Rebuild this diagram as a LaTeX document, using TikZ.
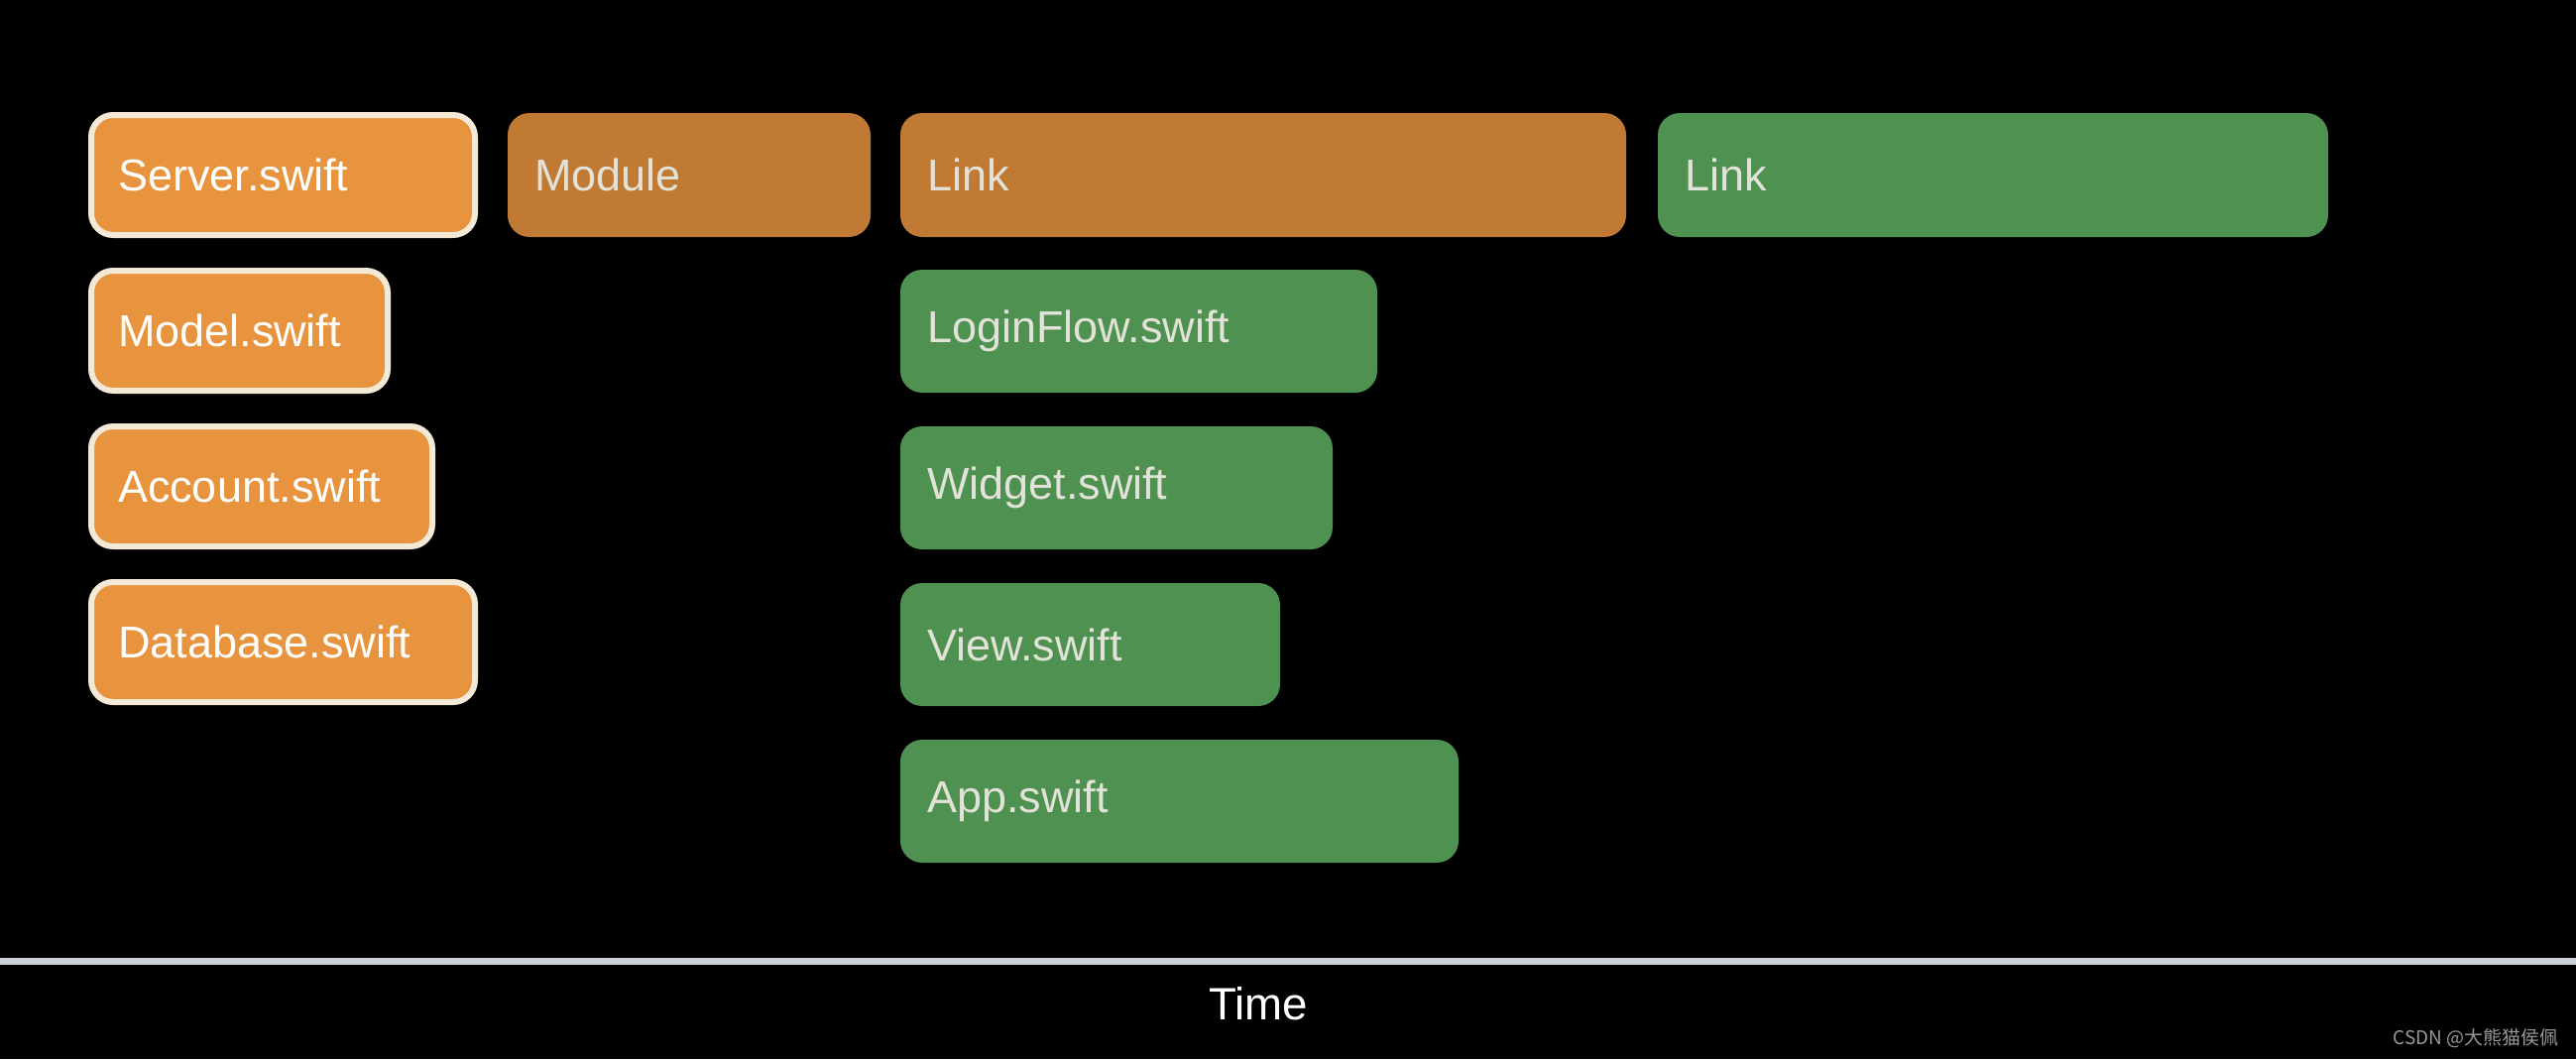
\documentclass[tikz,border=0pt]{standalone}
\usepackage{fontspec}
\setsansfont{Liberation Sans}
\newfontfamily\cjkfont{Noto Sans CJK SC}
\usepackage{xcolor}
\usepackage{tikz}
\usetikzlibrary{positioning}
\definecolor{buildOrange}{HTML}{E8943E}
\definecolor{buildOrangeDark}{HTML}{C07A33}
\definecolor{buildGreen}{HTML}{4E9150}
\definecolor{buildRim}{HTML}{F3E9D6}
\definecolor{buildText}{HTML}{E2E2D8}
\definecolor{buildAxis}{HTML}{CDD1D8}
\tikzset{
  task/.style={rounded corners=0.22cm, align=left, inner xsep=0.27cm,
    inner ysep=0pt, minimum height=1.25cm, outer sep=0pt,
    font=\sffamily\fontsize{12.8}{15}\selectfont},
  file box/.style={task, draw=buildRim, line width=0.06cm,
    fill=buildOrange, text=white, minimum height=1.21cm},
  module box/.style={task, fill=buildOrangeDark, text=buildText},
  link box/.style={task, fill=buildGreen, text=buildText,
    minimum height=1.24cm},
  time axis/.style={draw=buildAxis, line width=0.07cm},
  axis label/.style={font=\sffamily\fontsize{13}{15}\selectfont, text=white},
  credit/.style={font=\cjkfont\fontsize{5.4}{6}\selectfont, text=black!40}
}
\begin{document}
\begin{tikzpicture}[node distance=0.3cm and 0.3cm]
  \fill[black] (0,0) rectangle (25.98,-10.68);
  \useasboundingbox (0,0) rectangle (25.98,-10.68);
  % first row
  \node[file box, text width=3.33cm, anchor=north west] (server) at (0.92,-1.16) {Server.swift};
  \node[module box, text width=3.12cm, right=0.33cm of server] (module) {Module};
  \node[module box, text width=6.78cm, right=of module] (link) {Link};
  \node[link box, text width=6.22cm, minimum height=1.25cm, right=0.32cm of link] (linkg) {Link};
  % files compiled in parallel
  \node[file box, text width=2.45cm, below=0.36cm of server.south west, anchor=north west] (model) {Model.swift};
  \node[file box, text width=2.90cm, below=0.36cm of model.south west, anchor=north west] (account) {Account.swift};
  \node[file box, text width=3.33cm, below=0.36cm of account.south west, anchor=north west] (database) {Database.swift};
  \node[link box, text width=4.27cm, below=0.33cm of link.south west, anchor=north west] (login) {LoginFlow.swift};
  \node[link box, text width=3.82cm, below=0.34cm of login.south west, anchor=north west] (widget) {Widget.swift};
  \node[link box, text width=3.29cm, below=0.34cm of widget.south west, anchor=north west] (view) {View.swift};
  \node[link box, text width=5.09cm, below=0.34cm of view.south west, anchor=north west] (app) {App.swift};
  % time axis
  \draw[time axis] (0,-9.69) -- (25.98,-9.69);
  \node[axis label] (time) at (12.69,-10.12) {Time};
  \node[credit, anchor=east] (mark) at (25.93,-10.47) {CSDN @大熊猫侯佩};
\end{tikzpicture}
\end{document}
